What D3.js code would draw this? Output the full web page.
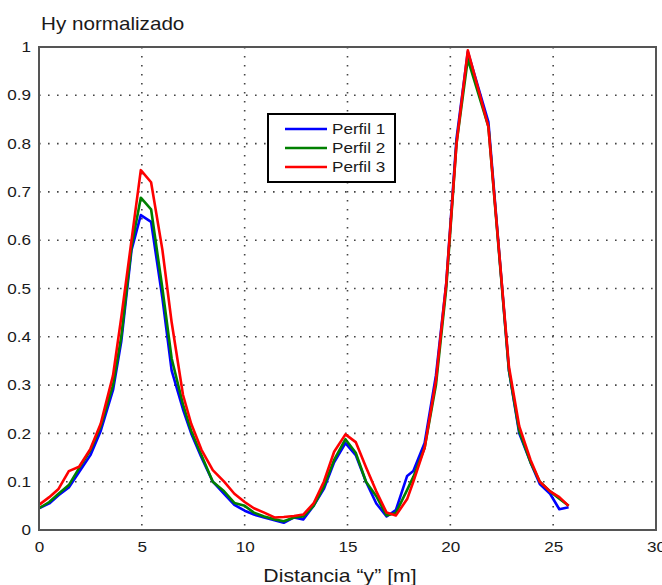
<!DOCTYPE html>
<html><head><meta charset="utf-8">
<script src="https://cdn.jsdelivr.net/npm/d3@7"></script>
<style>body{margin:0;background:#fff}svg{display:block;font-family:"Liberation Sans",Arial,sans-serif}</style>
</head><body><svg id="c" width="662" height="585"></svg>
<script>
const xs = [0,0.5,0.95,1.45,1.95,2.5,3.0,3.6,4.0,4.5,4.95,5.45,6.0,6.45,7.0,7.4,7.9,8.45,9.0,9.5,10.0,10.45,10.95,11.45,11.9,12.4,12.85,13.35,13.85,14.35,14.9,15.4,15.9,16.4,16.9,17.35,17.9,18.2,18.75,19.3,19.8,20.3,20.85,21.85,22.85,23.35,23.9,24.35,24.85,25.3,25.75];
const perfil1 = [0.045,0.055,0.072,0.088,0.12,0.155,0.205,0.29,0.39,0.58,0.652,0.638,0.48,0.33,0.25,0.20,0.15,0.10,0.075,0.052,0.04,0.032,0.026,0.02,0.015,0.026,0.022,0.05,0.085,0.14,0.18,0.155,0.10,0.055,0.028,0.041,0.112,0.122,0.18,0.32,0.51,0.81,0.99,0.845,0.33,0.2,0.14,0.095,0.075,0.043,0.047];
const perfil2 = [0.045,0.058,0.075,0.093,0.128,0.165,0.215,0.30,0.40,0.587,0.688,0.664,0.50,0.355,0.26,0.205,0.155,0.10,0.08,0.056,0.05,0.036,0.028,0.022,0.018,0.026,0.028,0.05,0.09,0.145,0.188,0.16,0.10,0.07,0.03,0.035,0.083,0.11,0.17,0.30,0.50,0.80,0.975,0.835,0.33,0.205,0.14,0.10,0.08,0.065,0.05];
const perfil3 = [0.052,0.068,0.085,0.122,0.131,0.168,0.22,0.32,0.44,0.60,0.745,0.72,0.58,0.43,0.28,0.22,0.166,0.124,0.10,0.075,0.058,0.045,0.036,0.026,0.027,0.029,0.032,0.055,0.10,0.162,0.198,0.182,0.13,0.08,0.036,0.030,0.064,0.10,0.17,0.31,0.51,0.80,0.993,0.835,0.338,0.215,0.145,0.10,0.08,0.068,0.05];
const seriesNames = ["Perfil 1","Perfil 2","Perfil 3"];
const seriesColors = ["#0000ff","#008000","#ff0000"];
const xTicks = [0,5,10,15,20,25,30];
const yTicks = [0,0.1,0.2,0.3,0.4,0.5,0.6,0.7,0.8,0.9,1];
const yTickLabels = ["0","0.1","0.2","0.3","0.4","0.5","0.6","0.7","0.8","0.9","1"];
const titleText = "Hy normalizado";
const xLabel = "Distancia \u201Cy\u201D [m]";

const SX = 1.18; // horizontal stretch of the reference's lettering
const svg = d3.select("#c");
const L=39, R=656, T=47, B=530;
const x = d3.scaleLinear().domain([0,30]).range([L,R]);
const y = d3.scaleLinear().domain([0,1]).range([B,T]);

function stretchedText(parent, px, py, str, size, anchor){
  return parent.append("text").attr("transform",`translate(${px},${py}) scale(${SX},1)`)
    .attr("text-anchor",anchor||"start").attr("font-size",size).attr("fill","#1a1a1a").text(str);
}

// grid
const g = svg.append("g");
g.selectAll("line.v").data(xTicks.filter(d=>d>0&&d<30)).join("line")
 .attr("x1",d=>x(d)).attr("x2",d=>x(d)).attr("y1",T).attr("y2",B)
 .attr("stroke","#444").attr("stroke-width",1.6).attr("stroke-dasharray","1.6,7.4");
g.selectAll("line.h").data(yTicks.filter(d=>d>0&&d<1)).join("line")
 .attr("y1",d=>y(d)).attr("y2",d=>y(d)).attr("x1",L).attr("x2",R)
 .attr("stroke","#444").attr("stroke-width",1.6).attr("stroke-dasharray","1.6,7.4");

// axes (labels only, MATLAB style)
const xAxis = d3.axisBottom(x).tickValues(xTicks).tickSize(0).tickPadding(12).tickFormat(d3.format("d"));
const yAxis = d3.axisLeft(y).tickValues(yTicks).tickSize(0).tickPadding(8).tickFormat((d,i)=>yTickLabels[i]);
const ax = svg.append("g").attr("transform",`translate(0,${B})`).call(xAxis);
const ay = svg.append("g").attr("transform",`translate(${L},0)`).call(yAxis);
[ax,ay].forEach(a=>{a.select(".domain").remove();
  a.selectAll("text").attr("font-size",14.5).attr("fill","#1a1a1a")
   .attr("font-family","Liberation Sans, Arial, sans-serif");});
ax.selectAll("text").attr("transform",`scale(${SX},1)`);
ay.selectAll("text").attr("x",-8/SX).attr("transform",`scale(${SX},1)`);

// lines
const data = [perfil1,perfil2,perfil3];
const line = d3.line().x((d,i)=>x(xs[i])).y(d=>y(d));
svg.append("g").selectAll("path").data(data).join("path")
 .attr("d",d=>line(d)).attr("fill","none")
 .attr("stroke",(d,i)=>seriesColors[i]).attr("stroke-width",2.6).attr("stroke-linejoin","round");

// frame
svg.append("rect").attr("x",L).attr("y",T).attr("width",R-L).attr("height",B-T)
 .attr("fill","none").attr("stroke","#555").attr("stroke-width",2);

// legend
const lg = svg.append("g");
lg.append("rect").attr("x",268).attr("y",114).attr("width",127).attr("height",68)
 .attr("fill","#fff").attr("stroke","#000").attr("stroke-width",2);
seriesNames.forEach((n,i)=>{
  const yy = 129 + i*19;
  lg.append("line").attr("x1",285).attr("x2",327).attr("y1",yy).attr("y2",yy)
    .attr("stroke",seriesColors[i]).attr("stroke-width",2.6);
  stretchedText(lg, 332, yy+5, n, 14.5);
});

// title & xlabel
stretchedText(svg, 41, 30, titleText, 17.5);
stretchedText(svg, 340, 582, xLabel, 18, "middle");
</script></body></html>
